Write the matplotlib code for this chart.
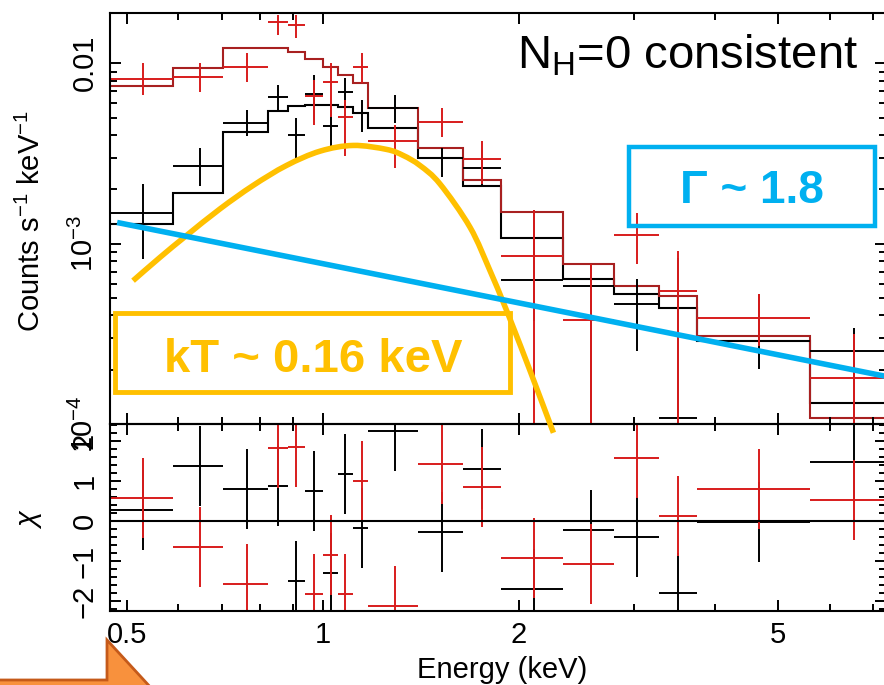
import numpy as np
import matplotlib
matplotlib.use('Agg')
import matplotlib.pyplot as plt
from matplotlib.patches import Rectangle, Polygon, PathPatch
from matplotlib.path import Path
from matplotlib.ticker import FixedLocator, NullFormatter, MultipleLocator

plt.rcParams.update({
    'font.family': 'Liberation Sans',
    'mathtext.fontset': 'custom',
    'mathtext.rm': 'Liberation Sans',
    'mathtext.it': 'Liberation Sans:italic',
    'mathtext.bf': 'Liberation Sans:bold',
    'axes.linewidth': 1.5,
    'xtick.direction': 'in',
    'ytick.direction': 'in',
    'xtick.major.size': 8, 'xtick.minor.size': 5,
    'ytick.major.size': 8, 'ytick.minor.size': 5,
    'xtick.major.width': 1.4, 'xtick.minor.width': 1.4,
    'ytick.major.width': 1.4, 'ytick.minor.width': 1.4,
    'font.size': 21,
})

### DATA  (rates in units of 1e-3 counts/s/keV)

edges = [0.471, 0.588, 0.702, 0.823, 0.884, 0.938, 1.0, 1.054, 1.112, 1.172,
         1.399, 1.641, 1.877, 2.337, 2.799, 3.282, 3.754, 5.600, 7.642]
centres = [0.529, 0.647, 0.764, 0.853, 0.909, 0.969, 1.029, 1.081, 1.148,
           1.290, 1.523, 1.755, 2.110, 2.581, 3.036, 3.511, 4.675, 6.543]

black_rate = [1.47, 2.71, 4.64, 6.47, 3.98, 6.73, 4.47, 6.90, 5.27, 5.62,
              2.97, 2.64, 0.631, 0.585, 0.464, 0.108, 0.289, 0.254]
black_hi = [2.15, 3.37, 5.48, 7.55, 4.95, 8.58, 5.84, 8.25, 6.23, 6.64,
            3.41, 3.29, 1.53, 0.774, 0.639, 0.836, 0.527, 0.341]
black_lo = [0.825, 2.10, 3.93, 5.34, 3.00, 4.82, 3.50, 5.62, 4.14, 4.64,
            2.33, 2.10, 0.373, 0.05, 0.254, 0.05, 0.202, 0.05]
black_model = [1.29, 1.90, 4.14, 5.41, 5.77, 5.84, 5.84, 5.69, 5.27, 4.35,
               2.97, 2.10, 1.07, 0.639, 0.527, 0.441, 0.289, 0.131]

red_rate = [8.15, 8.36, 9.50, 16.9, 16.3, 6.55, 7.84, 5.01, 9.50, 3.73,
            4.70, 2.93, 0.858, 0.378, 1.11, 0.548, 0.388, 0.180]
red_hi = [10.0, 10.0, 11.4, 18.5, 18.5, 8.04, 10.0, 6.23, 11.4, 4.52,
          5.62, 3.73, 1.53, 0.774, 1.47, 0.915, 0.527, 0.316]
red_lo = [6.64, 6.90, 7.84, 14.3, 13.8, 4.52, 5.01, 3.08, 7.74, 2.64,
          3.88, 2.15, 0.05, 0.05, 0.774, 0.05, 0.271, 0.05]
red_model = [7.45, 9.38, 12.1, 12.1, 11.5, 10.5, 9.50, 8.58, 7.74, 5.62,
             3.41, 2.24, 1.49, 0.774, 0.585, 0.514, 0.308, 0.108]

black_chi = [0.28, 1.38, 0.80, 0.88, -1.50, 0.76, -1.29, 1.17, -0.18, 2.25,
             -0.28, 1.30, -1.70, -0.23, -0.39, -1.79, -0.02, 1.48]
red_chi = [0.58, -0.65, -1.58, 1.83, 1.86, -1.83, -0.85, -1.83, 1.00, -2.13,
           1.43, 0.86, -0.93, -1.08, 1.58, 0.13, 0.80, 0.53]

# hand-drawn model sketches
bb_energy = [0.511, 0.562, 0.617, 0.695, 0.781, 0.879, 0.990, 1.113, 1.252,
             1.328, 1.409, 1.512, 1.682, 1.805, 1.892, 1.960, 2.080, 2.259]
bb_rate = [0.623, 0.839, 1.108, 1.559, 2.100, 2.713, 3.257, 3.503, 3.330,
           3.083, 2.713, 2.146, 1.232, 0.708, 0.472, 0.343, 0.197, 0.0894]
pl_energy = [0.483, 7.3]
pl_rate = [1.31, 0.184]

scale = 1e-3
BLACK = 'black'
RED = '#d81c1c'
RED_MODEL = '#a82020'
BLUE = '#00b0f0'
GOLD = '#ffc000'

### PLOT

W, H = 884, 685
fig = plt.figure(figsize=(W / 100, H / 100), dpi=100)

def fx(x):
    return x / W

def fy(y):
    return 1 - y / H

ax = fig.add_axes([fx(110), fy(424), (886 - 110) / W, (424 - 13) / H])
axr = fig.add_axes([fx(110), fy(611), (886 - 110) / W, (611 - 424) / H], sharex=ax)
ax.set_zorder(3)
ax.patch.set_alpha(0)

e = np.array(edges)
c = np.array(centres)
xerr = [c - e[:-1], e[1:] - c]

for rate, lo, hi, model, col, mcol in [
        (black_rate, black_lo, black_hi, black_model, BLACK, BLACK),
        (red_rate, red_lo, red_hi, red_model, RED, RED_MODEL)]:
    r = np.array(rate) * scale
    yerr = [r - np.array(lo) * scale, np.array(hi) * scale - r]
    ax.stairs(np.array(model) * scale, e, color=mcol, lw=1.5, baseline=None)
    ax.errorbar(c, r, xerr=xerr, yerr=yerr, fmt='none', ecolor=col,
                elinewidth=1.4, capsize=0)

for chi, col in [(black_chi, BLACK), (red_chi, RED)]:
    axr.errorbar(c, chi, xerr=xerr, yerr=1.0, fmt='none', ecolor=col,
                 elinewidth=1.4, capsize=0)
axr.axhline(0, color='black', lw=1.5)

# sketched components: smooth bezier through the read points (log space)
pts = np.column_stack([np.log10(bb_energy), np.log10(np.array(bb_rate) * scale)])
p = np.vstack([pts[0], pts, pts[-1]])
verts, codes = [pts[0]], [Path.MOVETO]
for i in range(1, len(p) - 2):
    verts += [p[i] + (p[i + 1] - p[i - 1]) / 6,
              p[i + 1] - (p[i + 2] - p[i]) / 6,
              p[i + 1]]
    codes += [Path.CURVE4] * 3
ax.add_patch(PathPatch(Path(10 ** np.array(verts), codes), fill=False,
                       edgecolor=GOLD, lw=4, capstyle='butt', clip_on=False,
                       zorder=5))
ax.plot(pl_energy, np.array(pl_rate) * scale, color=BLUE, lw=4,
        solid_capstyle='butt', zorder=5)

# axes
ax.set_xscale('log')
ax.set_yscale('log')
ax.set_xlim(0.471, 7.32)
ax.set_ylim(1e-4, 0.019)
axr.set_ylim(-2.25, 2.425)

for a in (ax, axr):
    a.xaxis.set_major_locator(FixedLocator([0.5, 1, 2, 5]))
    a.xaxis.set_minor_locator(FixedLocator([0.6, 0.7, 0.8, 0.9, 3, 4, 6, 7]))
    a.xaxis.set_minor_formatter(NullFormatter())
    a.tick_params(which='both', top=True, right=True)
    a.tick_params(axis='y', which='major', labelrotation=90, pad=8)
    a.tick_params(axis='x', which='major', pad=7)

ax.yaxis.set_major_locator(FixedLocator([1e-4, 1e-3, 1e-2]))
ax.yaxis.set_minor_locator(FixedLocator(
    [k * 10.0 ** p for p in (-4, -3, -2) for k in range(2, 10)]))
ax.yaxis.set_minor_formatter(NullFormatter())
ax.set_yticklabels([r'$10^{-4}$', r'$10^{-3}$', '0.01'])
ax.tick_params(axis='x', labelbottom=False)

axr.set_xticklabels(['0.5', '1', '2', '5'])
axr.yaxis.set_major_locator(FixedLocator([-2, -1, 0, 1, 2]))
axr.yaxis.set_minor_locator(MultipleLocator(0.2))

for a in (ax, axr):
    for lab in a.get_yticklabels():
        lab.set_va('center')

fig.text(fx(31), fy(221), r'Counts s$^{-1}$ keV$^{-1}$', rotation=90,
         ha='center', va='center', fontsize=21)
fig.text(fx(30), fy(519), r'$\chi$', rotation=90, ha='center', va='center',
         fontsize=21)
fig.text(fx(502), fy(678), 'Energy (keV)', ha='center', va='baseline',
         fontsize=21)

# slide annotations
fig.text(fx(517), fy(68), r'N$_\mathrm{H}$=0 consistent', ha='left',
         va='baseline', fontsize=34, zorder=10)
fig.patches.append(Rectangle((fx(629), fy(226)), (875 - 629) / W, (226 - 147) / H,
                             transform=fig.transFigure, fill=False,
                             edgecolor=BLUE, lw=3.2, zorder=10))
fig.text(fx(752), fy(203), 'Γ ~ 1.8', ha='center', va='baseline',
         fontsize=33, color=BLUE, fontweight='bold', zorder=10)
fig.patches.append(Rectangle((fx(115), fy(392)), (510 - 115) / W, (392 - 313) / H,
                             transform=fig.transFigure, fill=False,
                             edgecolor=GOLD, lw=3.5, zorder=10))
fig.text(fx(313), fy(372), 'kT ~ 0.16 keV', ha='center', va='baseline',
         fontsize=34, color=GOLD, fontweight='bold', zorder=10)

arrow = [(-5, 680), (107, 680), (107, 640), (153, 690), (-5, 690)]
fig.patches.append(Polygon([(fx(x), fy(y)) for x, y in arrow], closed=True,
                           transform=fig.transFigure, facecolor='#f8913d',
                           edgecolor='#c55a1a', lw=2, zorder=10))

fig.savefig('out.png', dpi=100)
